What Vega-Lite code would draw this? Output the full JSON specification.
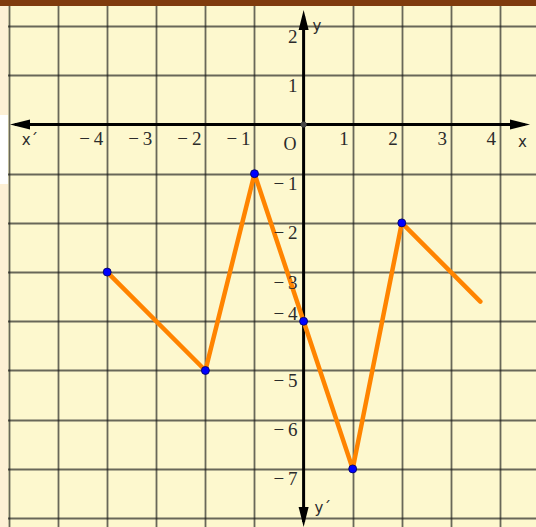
{
  "$schema": "https://vega.github.io/schema/vega-lite/v6.json",
  "width": 536,
  "height": 527,
  "autosize": "none",
  "padding": 0,
  "background": "#ffffff",
  "config": {"view": {"stroke": null, "fill": "#fdf8ce"}},
  "data": {"values": [{}]},
  "datasets": {
    "path": [
      {"x": -4, "y": -3, "dot": true},
      {"x": -2, "y": -5, "dot": true},
      {"x": -1, "y": -1, "dot": true},
      {"x": 0, "y": -4, "dot": true},
      {"x": 1, "y": -7, "dot": true},
      {"x": 2, "y": -2, "dot": true},
      {"x": 3.6, "y": -3.6, "dot": false}
    ],
    "xlabels": [
      {"t": "−\u20094", "v": -4}, {"t": "−\u20093", "v": -3}, {"t": "−\u20092", "v": -2}, {"t": "−\u20091", "v": -1},
      {"t": "1", "v": 1}, {"t": "2", "v": 2}, {"t": "3", "v": 3}, {"t": "4", "v": 4}
    ],
    "ylabels": [
      {"t": "2", "v": 2}, {"t": "1", "v": 1}, {"t": "−\u20091", "v": -1}, {"t": "−\u20092", "v": -2},
      {"t": "−\u20093", "v": -3}, {"t": "−\u20094", "v": -4}, {"t": "−\u20095", "v": -5}, {"t": "−\u20096", "v": -6}, {"t": "−\u20097", "v": -7}
    ]
  },
  "layer": [
    {
      "data": {"name": "path"},
      "mark": {"type": "point", "opacity": 0},
      "encoding": {
        "x": {"field": "x", "type": "quantitative",
          "scale": {"domain": [-6.183, 4.733], "nice": false, "zero": false},
          "axis": {"grid": true, "values": [-6,-5,-4,-3,-2,-1,1,2,3,4], "domain": false, "ticks": false, "labels": false, "title": null,
            "gridColor": "#1a1a1a", "gridOpacity": 0.65, "gridWidth": 1.8}},
        "y": {"field": "y", "type": "quantitative",
          "scale": {"domain": [-8.181, 2.53], "nice": false, "zero": false},
          "axis": {"grid": true, "values": [2,1,-1,-2,-3,-4,-5,-6,-7,-8], "domain": false, "ticks": false, "labels": false, "title": null,
            "gridColor": "#1a1a1a", "gridOpacity": 0.65, "gridWidth": 1.8}}
      }
    },
    {
      "mark": {"type": "rect", "color": "#fdf0d5"},
      "encoding": {"x": {"datum": -6.183}, "x2": {"datum": -6.02}, "y": {"datum": 2.53}, "y2": {"datum": -8.181}}
    },
    {
      "mark": {"type": "rect", "color": "#ffffff"},
      "encoding": {"x": {"datum": -6.183}, "x2": {"datum": -6.02}, "y": {"datum": 0.193}, "y2": {"datum": -1.209}}
    },
    {
      "mark": {"type": "rect", "color": "#7f3b0e"},
      "encoding": {"x": {"datum": -6.183}, "x2": {"datum": 4.733}, "y": {"datum": 2.53}, "y2": {"datum": 2.408}}
    },
    {
      "mark": {"type": "rule", "color": "#000000", "strokeWidth": 3},
      "encoding": {"x": {"datum": -5.88}, "x2": {"datum": 4.5}, "y": {"datum": 0}}
    },
    {
      "mark": {"type": "rule", "color": "#000000", "strokeWidth": 3},
      "encoding": {"x": {"datum": 0}, "y": {"datum": 2.2}, "y2": {"datum": -8.08}}
    },
    {
      "mark": {"type": "point", "filled": true, "color": "#000000", "opacity": 1, "size": 400, "shape": "M-1,0L1,-0.5L1,0.5Z"},
      "encoding": {"x": {"datum": -5.776}, "y": {"datum": 0}}
    },
    {
      "mark": {"type": "point", "filled": true, "color": "#000000", "opacity": 1, "size": 400, "shape": "M1,0L-1,-0.5L-1,0.5Z"},
      "encoding": {"x": {"datum": 4.407}, "y": {"datum": 0}}
    },
    {
      "mark": {"type": "point", "filled": true, "color": "#000000", "opacity": 1, "size": 400, "shape": "M0,-1L-0.5,1L0.5,1Z"},
      "encoding": {"x": {"datum": 0}, "y": {"datum": 2.124}}
    },
    {
      "mark": {"type": "point", "filled": true, "color": "#000000", "opacity": 1, "size": 400, "shape": "M0,1L-0.5,-1L0.5,-1Z"},
      "encoding": {"x": {"datum": 0}, "y": {"datum": -7.978}}
    },
    {
      "mark": {"type": "point", "filled": true, "color": "#444444", "opacity": 1, "size": 36},
      "encoding": {"x": {"datum": 0}, "y": {"datum": 0}}
    },
    {
      "data": {"name": "path"},
      "mark": {"type": "line", "color": "#ff8400", "strokeWidth": 4.5, "strokeCap": "round", "strokeJoin": "round"},
      "encoding": {"x": {"field": "x", "type": "quantitative"}, "y": {"field": "y", "type": "quantitative"}}
    },
    {
      "data": {"name": "path"},
      "transform": [{"filter": "datum.dot"}],
      "mark": {"type": "point", "filled": true, "fill": "#0000ff", "stroke": "#00005a", "strokeWidth": 0.8, "opacity": 1, "size": 64},
      "encoding": {"x": {"field": "x", "type": "quantitative"}, "y": {"field": "y", "type": "quantitative"}}
    },
    {
      "data": {"name": "xlabels"},
      "mark": {"type": "text", "align": "right", "baseline": "alphabetic", "dx": -4, "dy": 20.5, "font": "Liberation Serif", "fontSize": 19, "color": "#2b2b2b"},
      "encoding": {"x": {"field": "v", "type": "quantitative"}, "y": {"datum": 0}, "text": {"field": "t"}}
    },
    {
      "data": {"name": "ylabels"},
      "transform": [{"filter": "datum.v != -4"}],
      "mark": {"type": "text", "align": "right", "baseline": "alphabetic", "dx": -6, "dy": 16.5, "font": "Liberation Serif", "fontSize": 19, "color": "#2b2b2b"},
      "encoding": {"x": {"datum": 0}, "y": {"field": "v", "type": "quantitative"}, "text": {"field": "t"}}
    },
    {
      "data": {"name": "ylabels"},
      "transform": [{"filter": "datum.v == -4"}],
      "mark": {"type": "text", "align": "right", "baseline": "alphabetic", "dx": -6, "dy": -1.5, "font": "Liberation Serif", "fontSize": 19, "color": "#2b2b2b"},
      "encoding": {"x": {"datum": 0}, "y": {"field": "v", "type": "quantitative"}, "text": {"field": "t"}}
    },
    {
      "mark": {"type": "text", "align": "right", "baseline": "alphabetic", "dx": -7, "dy": 26, "font": "Liberation Serif", "fontSize": 18, "color": "#2b2b2b", "text": "O"},
      "encoding": {"x": {"datum": 0}, "y": {"datum": 0}}
    },
    {
      "mark": {"type": "text", "align": "left", "baseline": "alphabetic", "dy": 23, "font": "DejaVu Sans", "fontSize": 15, "color": "#2b2b2b", "text": "x"},
      "encoding": {"x": {"datum": 4.367}, "y": {"datum": 0}}
    },
    {
      "mark": {"type": "text", "align": "left", "baseline": "alphabetic", "dy": 20.5, "font": "DejaVu Sans", "fontSize": 15, "color": "#2b2b2b", "text": "x´"},
      "encoding": {"x": {"datum": -5.741}, "y": {"datum": 0}}
    },
    {
      "mark": {"type": "text", "align": "left", "baseline": "alphabetic", "dx": 9, "dy": 5, "font": "DejaVu Sans", "fontSize": 15, "color": "#2b2b2b", "text": "y"},
      "encoding": {"x": {"datum": 0}, "y": {"datum": 2}}
    },
    {
      "mark": {"type": "text", "align": "left", "baseline": "alphabetic", "dx": 11, "dy": -5, "font": "DejaVu Sans", "fontSize": 15, "color": "#2b2b2b", "text": "y´"},
      "encoding": {"x": {"datum": 0}, "y": {"datum": -8}}
    }
  ]
}
